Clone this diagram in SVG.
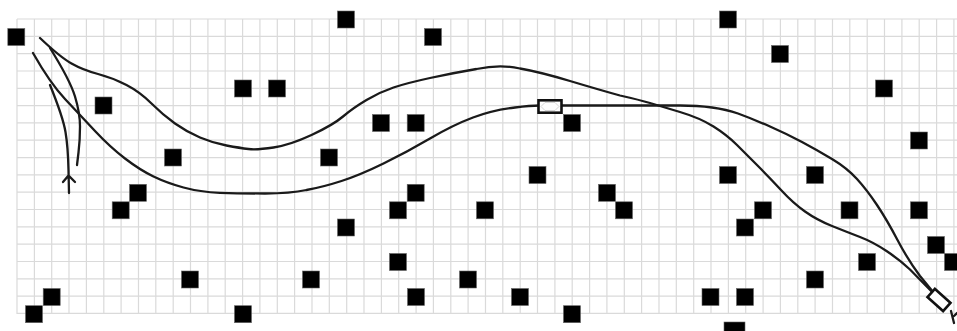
<svg xmlns="http://www.w3.org/2000/svg" width="957" height="331" viewBox="0 0 957 331">
<style>
.g{stroke:#dadada;stroke-width:1.2;fill:none}
.c{stroke:#1a1a1a;stroke-width:2.3;fill:none;stroke-linecap:round}
.o{fill:#000;stroke:#666;stroke-width:.6}
.v{fill:#fff;stroke:#111;stroke-width:2.6}
</style>
<defs><rect id="s" class="o" x="-8.500" y="-8.500" width="17" height="17"/></defs>
<rect width="957" height="331" fill="#fff"/>
<g id="grid"><path class="g" d="M17 19H957M17 36.3H957M17 53.6H957M17 71H957M17 88.300H957M17 105.600H957M17 122.900H957M17 140.200H957M17 157.600H957M17 174.900H957M17 192.200H957M17 209.500H957M17 226.800H957M17 244.200H957M17 261.500H957M17 278.800H957M17 296.100H957M17 313.400H957"/>
<path class="g" d="M17 19V314M34.400 19V314M51.700 19V314M69 19V314M86.400 19V314M103.800 19V314M121.100 19V314M138.500 19V314M155.800 19V314M173.200 19V314M190.500 19V314M207.900 19V314M225.200 19V314M242.600 19V314M259.900 19V314M277.300 19V314M294.600 19V314M312 19V314M329.300 19V314M346.700 19V314M364 19V314M381.400 19V314M398.700 19V314M416.100 19V314M433.400 19V314M450.800 19V314M468.100 19V314M485.500 19V314M502.800 19V314M520.200 19V314M537.500 19V314M554.900 19V314M572.200 19V314M589.600 19V314M606.900 19V314M624.300 19V314M641.600 19V314M659 19V314M676.300 19V314M693.700 19V314M711 19V314M728.400 19V314M745.700 19V314M763.100 19V314M780.400 19V314M797.800 19V314M815.100 19V314M832.500 19V314M849.800 19V314M867.200 19V314M884.500 19V314M901.900 19V314M919.200 19V314M936.600 19V314M953.900 19V314"/></g>
<g id="obstacles">
<use href="#s" x="16.300" y="37"/><use href="#s" x="346" y="19.500"/><use href="#s" x="728" y="19.500"/><use href="#s" x="433" y="37"/><use href="#s" x="780" y="54"/><use href="#s" x="243" y="88.500"/><use href="#s" x="277" y="88.500"/><use href="#s" x="884" y="88.500"/><use href="#s" x="103.500" y="105.500"/><use href="#s" x="381" y="123"/><use href="#s" x="415.700" y="123"/><use href="#s" x="572" y="123"/><use href="#s" x="919" y="140.500"/><use href="#s" x="173" y="157.500"/><use href="#s" x="329" y="157.500"/><use href="#s" x="537.500" y="175"/><use href="#s" x="728" y="175"/><use href="#s" x="815" y="175"/><use href="#s" x="138" y="192.800"/><use href="#s" x="415.700" y="192.800"/><use href="#s" x="607" y="192.800"/><use href="#s" x="120.700" y="210.300"/><use href="#s" x="398" y="210.300"/><use href="#s" x="485" y="210.300"/><use href="#s" x="624" y="210.300"/><use href="#s" x="763" y="210.300"/><use href="#s" x="849.500" y="210.300"/><use href="#s" x="919" y="210.300"/><use href="#s" x="346" y="227.500"/><use href="#s" x="745" y="227.500"/><use href="#s" x="936" y="245"/><use href="#s" x="398" y="262"/><use href="#s" x="867" y="262"/><use href="#s" x="953" y="262"/><use href="#s" x="190" y="279.500"/><use href="#s" x="311" y="279.500"/><use href="#s" x="468" y="279.500"/><use href="#s" x="815" y="279.500"/><use href="#s" x="51.700" y="297"/><use href="#s" x="416" y="297"/><use href="#s" x="520" y="297"/><use href="#s" x="710.500" y="297"/><use href="#s" x="745" y="297"/><use href="#s" x="34" y="314.200"/><use href="#s" x="243" y="314.200"/><use href="#s" x="572" y="314.200"/>
<rect class="o" x="724" y="322" width="21" height="10"/>
</g>
<g id="connectors">
<path class="c" d="M40 38Q60 57 71.500 63.500Q83 70 98 74Q113 78 126.500 85Q140 92 151.500 103.500Q163 115 175 123.500Q187 132 200 137.500Q213 143 226.500 145.500Q240 148 248.500 149Q257 150 273.500 147.500Q290 145 311.500 135Q333 125 343 116.500Q353 108 366.500 100Q380 92 393.500 87.500Q407 83 430 78Q453 73 476.500 69Q500 64 520 68.500Q540 72 570 81Q600 90 620 95.500Q640 100 650 103Q660 106 680 112Q700 118 713.500 126.500Q727 135 737 145Q747 155 758.500 166.500Q770 178 781.500 190.500Q793 203 805 211.500Q817 220 832 226Q847 232 860 237Q873 242 886.500 251Q900 260 910 269.500L938 298"/>
<path class="c" d="M33 53Q50 83 65 99Q80 115 95 131Q110 147 125 158.500Q140 170 153.500 176.500Q167 183 183.500 187.500Q200 192 220 192.800Q240 193.500 265 193.500Q290 193.500 306.500 190Q323 187 341.500 181Q360 175 383.500 163.500Q407 152 430 138.500Q453 125 473 117.500Q493 110 515 107.500Q530 105.500 540 105.500H680Q715 105.500 738 113.500Q753 119 770 126.500Q787 134 802 142Q817 150 832 159Q847 168 857 179Q867 190 877 205Q887 220 897.500 240Q908 260 920 276L938 298"/>
<path class="c" d="M50 48Q70 80 75 96.500Q80 113 80 126.500Q80 140 78.500 152.500L77 165"/>
<path class="c" d="M50 85Q63 117 65.500 132Q68 147 68.500 170L69 193M63 182L68.500 175.500L75 182"/>
</g>
<g id="vehicle-mid"><rect class="v" x="538.500" y="100.300" width="23" height="12.400"/><path d="M545 102.500H555L559 106.500L555 110.500H545L541 106.500Z" fill="#fff" stroke="#bbb" stroke-width=".6"/></g>
<g id="vehicle-end"><rect class="v" x="-10.500" y="-5.500" width="21" height="11" transform="translate(939 300) rotate(42)"/><path class="c" d="M951 311L954 323M954 316L957 313"/></g>
</svg>
